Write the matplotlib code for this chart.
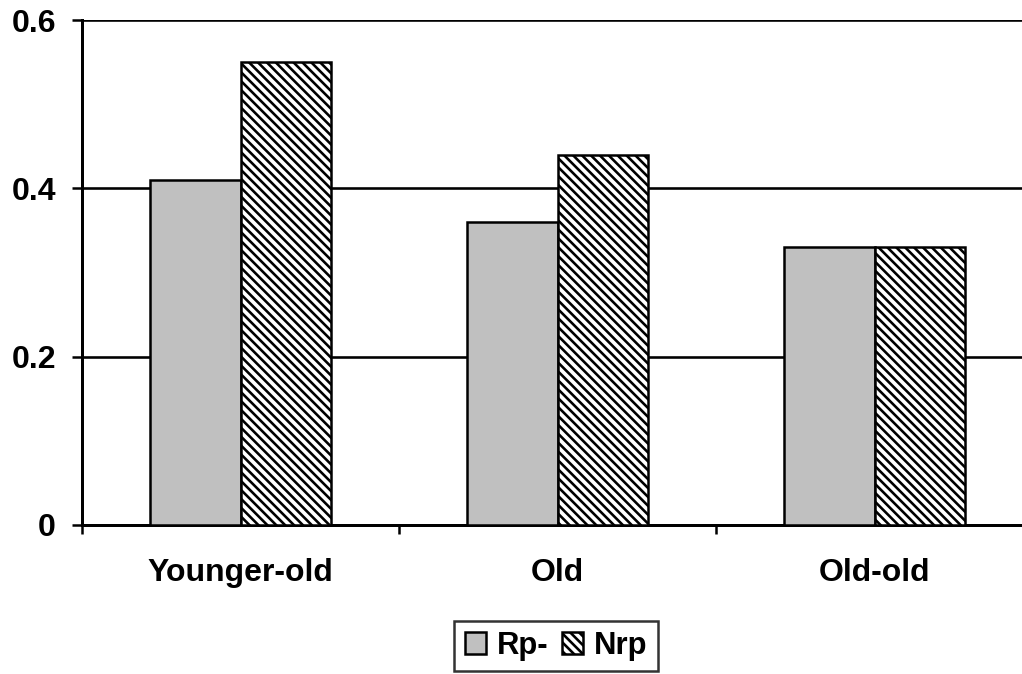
import matplotlib
matplotlib.use('Agg')
import matplotlib.pyplot as plt
import numpy as np

groups = ['Younger-old', 'Old', 'Old-old']
series = ['Rp-', 'Nrp']
rp_minus = [0.41, 0.36, 0.33]
nrp = [0.55, 0.44, 0.33]
yticks = [0, 0.2, 0.4, 0.6]
ytick_labels = ['0', '0.2', '0.4', '0.6']

DPI = 80
W, H = 1022, 674
def pt(px):
    return px * 72.0 / DPI

plt.rcParams['font.family'] = ['Liberation Sans', 'DejaVu Sans']
plt.rcParams['font.weight'] = 'bold'
plt.rcParams['hatch.linewidth'] = pt(2.6)

fig = plt.figure(figsize=(W / DPI, H / DPI), dpi=DPI)
# the plot area runs past the right edge of the picture, as in the reference
ax = fig.add_axes([82 / W, 149 / H, 951 / W, 505 / H])

x = np.arange(len(groups)) + 0.5
bw = 0.284
ax.bar(x - bw / 2, rp_minus, bw, color='#c0c0c0', edgecolor='black',
       linewidth=pt(2.5), label=series[0], zorder=3)
ax.bar(x + bw / 2, nrp, bw, color='white', edgecolor='black', hatch='\\\\\\',
       linewidth=pt(2.5), label=series[1], zorder=3)

ax.set_xlim(0, len(groups))
ax.set_ylim(0, 0.6)
ax.set_yticks(yticks)
ax.set_yticklabels(ytick_labels)
ax.yaxis.grid(True, color='black', linewidth=pt(2.6), zorder=0)
ax.set_axisbelow(True)

# category separators as major ticks, names on minor ticks
ax.set_xticks(np.arange(len(groups) + 1))
ax.set_xticklabels([])
ax.set_xticks(x, minor=True)
ax.set_xticklabels(groups, minor=True, fontsize=pt(32), fontweight='bold')
ax.tick_params(axis='x', which='major', length=pt(9), width=pt(2.5), direction='out')
ax.tick_params(axis='x', which='minor', length=0, pad=pt(33))
ax.tick_params(axis='y', length=pt(10), width=pt(2.5), direction='out',
               pad=pt(16), labelsize=pt(32))
for lab in ax.get_yticklabels():
    lab.set_fontweight('bold')

ax.spines['top'].set_visible(False)
ax.spines['right'].set_visible(False)
ax.spines['left'].set_linewidth(pt(3))
ax.spines['bottom'].set_linewidth(pt(3))

leg = fig.legend(loc='center', bbox_to_anchor=(556 / W, 1 - 646 / H), ncol=2,
                 prop={'size': pt(31), 'weight': 'bold'}, frameon=True,
                 fancybox=False, shadow=False, handlelength=0.68, handleheight=0.68,
                 handletextpad=0.35, columnspacing=0.45, borderpad=0.33,
                 borderaxespad=0)
leg.get_frame().set_edgecolor('black')
leg.get_frame().set_linewidth(pt(2.5))

fig.savefig('out.png', dpi=DPI)
